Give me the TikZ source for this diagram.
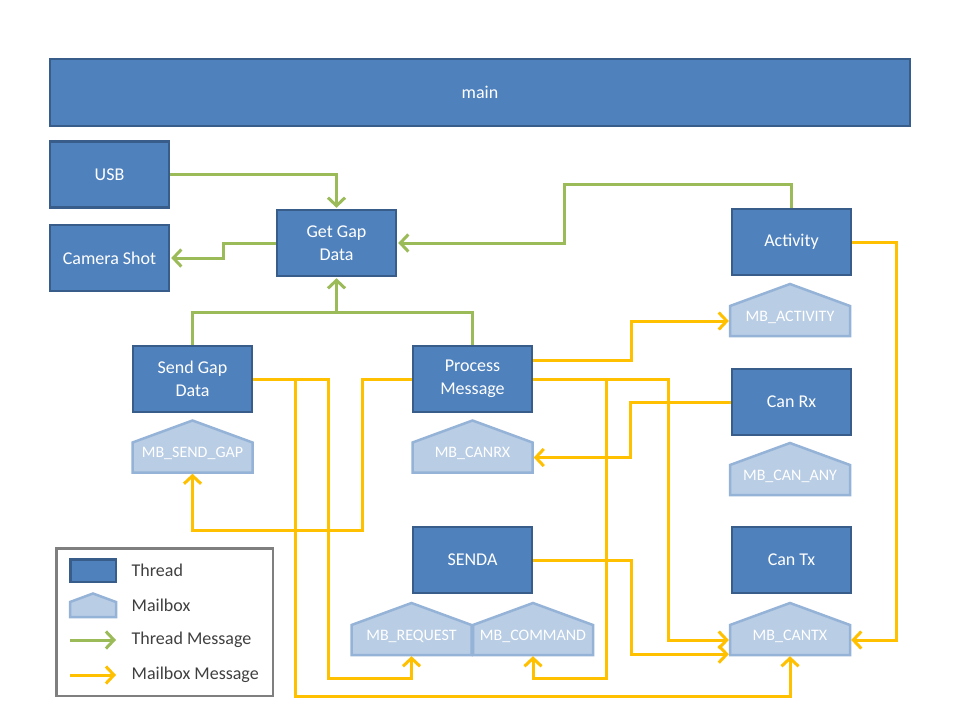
\documentclass[tikz,border=0pt]{standalone}
\usepackage{fontspec}
\setmainfont{Carlito}
\usetikzlibrary{arrows.meta}
\definecolor{thfill}{HTML}{4F81BD}
\definecolor{thborder}{HTML}{385D8A}
\definecolor{mbfill}{HTML}{B9CDE5}
\definecolor{mbborder}{HTML}{95B3D7}
\definecolor{msggreen}{HTML}{9BBB59}
\definecolor{msgyellow}{HTML}{FFC000}
\definecolor{leggray}{HTML}{7F7F7F}
\definecolor{legtxt}{HTML}{404040}
\tikzset{
  thread/.style={draw=thborder, fill=thfill, line width=2.5pt, minimum width=119pt,
    minimum height=66pt, text=white, font=\fontsize{18}{23}\selectfont, align=center, inner sep=0pt},
  mbtext/.style={minimum width=122pt, minimum height=32pt, inner sep=0pt},
  mblabel/.style={text=white, font=\fontsize{16}{19}\selectfont, inner sep=0pt},
  mbshape/.style={draw=mbborder, fill=mbfill, line width=2.5pt, line join=miter},
  tline/.style={draw=msggreen, line width=3pt},
  tmsg/.style={tline, -{Straight Barb[length=8pt,width=17pt]}, shorten >=1pt},
  mline/.style={draw=msgyellow, line width=3pt},
  mmsg/.style={mline, -{Straight Barb[length=8pt,width=17pt]}},
  legtext/.style={text=legtxt, font=\fontsize{18}{22}\selectfont, anchor=west, inner sep=0pt},
}
\newcommand\mailboxnode[4]{%
  \draw[mbshape] (#2-60,#3+15) -- (#2-60,#3-15) -- (#2,#3-37) -- (#2+60,#3-15) -- (#2+60,#3+15) -- cycle;
  \node[mbtext] (#1) at (#2,#3) {};
  \node[mblabel] (#1-t) at (#2,#3-4) {#4};}
\begin{document}
\begin{tikzpicture}[x=1pt,y=-1pt]
\useasboundingbox[fill=white] (0,0) rectangle (960,720);

% threads
\node[thread, minimum width=860pt, minimum height=67pt] (main) at (480,92.5) {main};
\node[thread] (usb) at (109.5,174.5) {USB};
\node[thread] (cam) at (109.5,258) {Camera Shot};
\node[thread] (ggd) at (336.5,243) {Get Gap\\Data};
\node[thread] (act) at (791.5,242) {Activity};
\node[thread] (canrx) at (791.5,402) {Can Rx};
\node[thread] (cantx) at (791.5,560) {Can Tx};
\node[thread] (sgd) at (192.5,379) {Send Gap\\Data};
\node[thread] (pm) at (472.5,379) {Process\\Message};
\node[thread] (senda) at (472.5,560) {SENDA};

% mailboxes
\mailboxnode{mbact}{790}{321}{MB\_ACTIVITY}
\mailboxnode{mbany}{790}{480}{MB\_CAN\_ANY}
\mailboxnode{mbcantx}{790}{640}{MB\_CANTX}
\mailboxnode{mbsg}{192.5}{457.5}{MB\_SEND\_GAP}
\mailboxnode{mbcanrx}{472.5}{457.5}{MB\_CANRX}
\mailboxnode{mbreq}{411.5}{640}{MB\_REQUEST}
\mailboxnode{mbcmd}{533}{640}{MB\_COMMAND}

% thread messages (green)
\draw[tmsg] (usb.east) -| (ggd.north);
\draw[tmsg] (ggd.west) -- (223,243) |- (cam.east);
\coordinate (g3) at (564,184);
\draw[tmsg] (act.north) |- (g3) |- (ggd.east);
\coordinate (gj) at (336.5,312);
\draw[tline] (sgd.north) |- (gj) -| (pm.north);
\draw[tmsg] (gj) -- (ggd.south);

% mailbox messages (yellow)
\draw[mmsg] (sgd.east) -| (295,696) -| (mbcantx.south);
\draw[mmsg] (sgd.east) -| (328,678) -| (mbreq.south);
\draw[mmsg] (pm.west) -| (362,530) -| (mbsg.south);
\draw[mmsg] ([yshift=19pt]pm.east) -- (631,360) |- (mbact.west);
\draw[mmsg] (pm.east) -- (668,379) |- (mbcantx.west);
\draw[mmsg] (pm.east) -| (606,678) -| (mbcmd.south);
\draw[mmsg] (canrx.west) -- (630,402) |- (mbcanrx.east);
\draw[mmsg] (act.east) -- (896,242) |- (mbcantx.east);
\draw[mmsg] (senda.east) -- (631,560) |- ([yshift=2pt]mbcantx.south west);

% legend
\node[draw=leggray, line width=2.5pt, minimum width=216.5pt, minimum height=147.5pt, inner sep=0pt] (legend) at (164.5,622) {};
\node[draw=thborder, fill=thfill, line width=2.5pt, minimum width=45.5pt, minimum height=22.5pt, inner sep=0pt] (legthread) at (93,570.5) {};
\draw[mbshape] (70,617) -- (70,602) -- (93,593.5) -- (116,602) -- (116,617) -- cycle;
\coordinate (lga) at (70,640);
\coordinate (lgb) at (116,640);
\coordinate (lgc) at (70,675);
\coordinate (lgd) at (116,675);
\draw[tline, -{Straight Barb[length=8pt,width=17pt]}] (lga) -- (lgb);
\draw[mline, -{Straight Barb[length=8pt,width=17pt]}] (lgc) -- (lgd);
\node[legtext] (lt1) at (131.5,570) {Thread};
\node[legtext] (lt2) at (131.5,605) {Mailbox};
\node[legtext] (lt3) at (131.5,640) {Thread Message};
\node[legtext] (lt4) at (131.5,675) {Mailbox Message};
\end{tikzpicture}
\end{document}
